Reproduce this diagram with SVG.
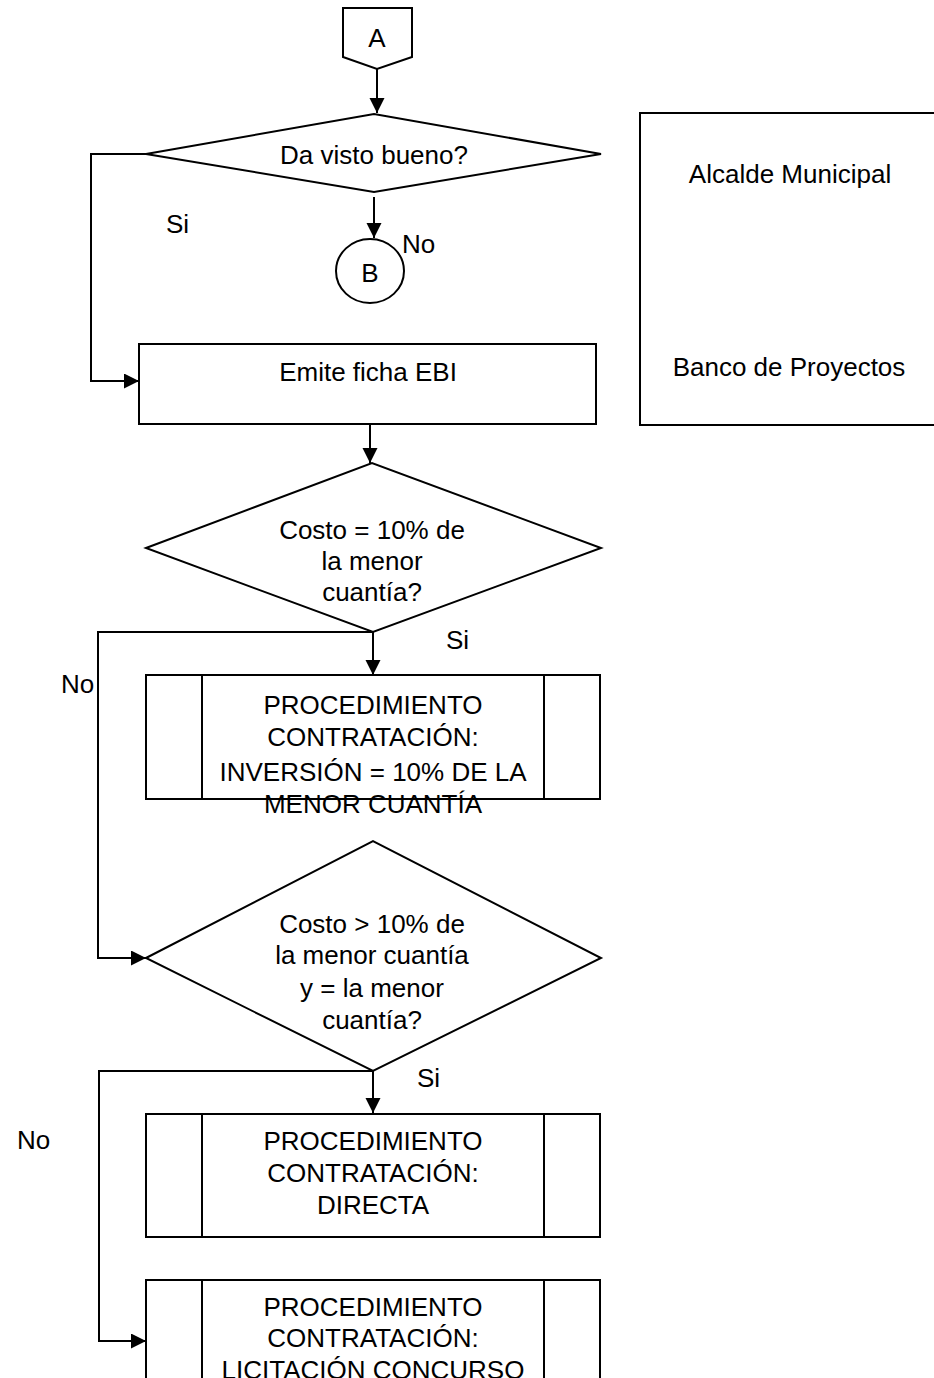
<svg xmlns="http://www.w3.org/2000/svg" width="934" height="1378" viewBox="0 0 934 1378">
<style>
.s{fill:#fff;stroke:#000;stroke-width:2}
.c{fill:none;stroke:#000;stroke-width:2}
.t{font-family:"Liberation Sans",Arial,sans-serif;font-size:26px;fill:#000}
.m{text-anchor:middle}
</style>
<defs>
<marker id="ah" markerUnits="userSpaceOnUse" markerWidth="16" markerHeight="16" refX="15" refY="7.5" orient="auto">
<path d="M0,0 L15,7.5 L0,15 Z" fill="#000"/>
</marker>
</defs>
<rect width="934" height="1378" fill="#fff"/>
<g id="connectors">
<path class="c" d="M377,69 L377,113" marker-end="url(#ah)"/>
<path class="c" d="M146,154 L91,154 L91,381 L139,381" marker-end="url(#ah)"/>
<path class="c" d="M374,197 L374,238" marker-end="url(#ah)"/>
<path class="c" d="M370,424 L370,463" marker-end="url(#ah)"/>
<path class="c" d="M373,632 L98,632 L98,958 L146,958" marker-end="url(#ah)"/>
<path class="c" d="M373,632 L373,675" marker-end="url(#ah)"/>
<path class="c" d="M373,1071 L99,1071 L99,1341 L146,1341" marker-end="url(#ah)"/>
<path class="c" d="M373,1071 L373,1113" marker-end="url(#ah)"/>
</g>
<g id="nodeA">
<path class="s" d="M343,8 L412,8 L412,57 L377,69 L343,57 Z"/>
<text class="t m" x="377" y="47">A</text>
</g>
<g id="dec1">
<path class="s" d="M146,154 L374,114 L601,154 L374,192 Z"/>
<text class="t m" x="374" y="164">Da visto bueno?</text>
</g>
<g id="lblSi1"><text class="t" x="166" y="233">Si</text></g>
<g id="nodeB">
<ellipse class="s" cx="370" cy="271" rx="34" ry="32"/>
<text class="t m" x="370" y="282">B</text>
</g>
<g id="lblNo1"><text class="t" x="402" y="253">No</text></g>
<g id="ebi">
<rect class="s" x="139" y="344" width="457" height="80"/>
<text class="t m" x="368" y="381">Emite ficha EBI</text>
</g>
<g id="roles">
<rect class="s" x="640" y="113" width="320" height="312"/>
<text class="t m" x="790" y="183">Alcalde Municipal</text>
<text class="t m" x="789" y="376">Banco de Proyectos</text>
</g>
<g id="dec2">
<path class="s" d="M146,548 L372,463 L601,548 L373,632 Z"/>
<text class="t m" x="372" y="539">Costo = 10% de</text>
<text class="t m" x="372" y="570">la menor</text>
<text class="t m" x="372" y="601">cuantía?</text>
</g>
<g id="lblSi2"><text class="t" x="446" y="649">Si</text></g>
<g id="lblNo2"><text class="t" x="61" y="693">No</text></g>
<g id="sub1">
<rect class="s" x="146" y="675" width="454" height="124"/>
<line class="c" x1="202" y1="675" x2="202" y2="799"/>
<line class="c" x1="544" y1="675" x2="544" y2="799"/>
<text class="t m" x="373" y="714">PROCEDIMIENTO</text>
<text class="t m" x="373" y="746">CONTRATACIÓN:</text>
<text class="t m" x="373" y="781">INVERSIÓN = 10% DE LA</text>
<text class="t m" x="373" y="813">MENOR CUANTÍA</text>
</g>
<g id="dec3">
<path class="s" d="M146,958 L373,841 L601,958 L373,1071 Z"/>
<text class="t m" x="372" y="933">Costo &gt; 10% de</text>
<text class="t m" x="372" y="964">la menor cuantía</text>
<text class="t m" x="372" y="997">y = la menor</text>
<text class="t m" x="372" y="1029">cuantía?</text>
</g>
<g id="lblSi3"><text class="t" x="417" y="1087">Si</text></g>
<g id="lblNo3"><text class="t" x="17" y="1149">No</text></g>
<g id="sub2">
<rect class="s" x="146" y="1114" width="454" height="123"/>
<line class="c" x1="202" y1="1114" x2="202" y2="1237"/>
<line class="c" x1="544" y1="1114" x2="544" y2="1237"/>
<text class="t m" x="373" y="1150">PROCEDIMIENTO</text>
<text class="t m" x="373" y="1182">CONTRATACIÓN:</text>
<text class="t m" x="373" y="1214">DIRECTA</text>
</g>
<g id="sub3">
<rect class="s" x="146" y="1280" width="454" height="140"/>
<line class="c" x1="202" y1="1280" x2="202" y2="1420"/>
<line class="c" x1="544" y1="1280" x2="544" y2="1420"/>
<text class="t m" x="373" y="1316">PROCEDIMIENTO</text>
<text class="t m" x="373" y="1347">CONTRATACIÓN:</text>
<text class="t m" x="373" y="1379">LICITACIÓN CONCURSO</text>
</g>
</svg>
